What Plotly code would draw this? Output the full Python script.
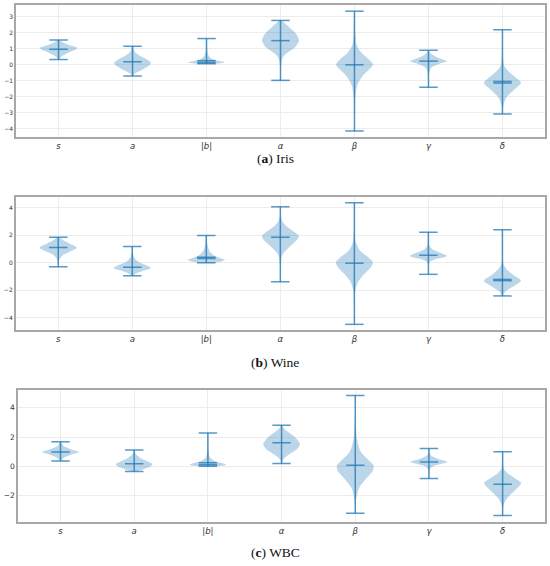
import plotly.graph_objects as go

# parameter names on the x axis
PARAMS = ['<i>s</i>', '<i>a</i>', '|<i>b</i>|', '<i>α</i>', '<i>β</i>', '<i>γ</i>', '<i>δ</i>']

# ---- Iris ----
IRIS_MIN = [0.31, -0.72, 0.05, -0.99, -4.15, -1.42, -3.09]
IRIS_MAX = [1.53, 1.14, 1.62, 2.75, 3.33, 0.89, 2.17]
IRIS_MED = [[0.95], [0.17], [0.13, 0.24], [1.49], [-0.02], [0.21], [-1.06, -1.16]]
IRIS_KDE_Y = [
    [0.31, 0.5, 0.75, 0.95, 1.05, 1.2, 1.4, 1.53],
    [-0.72, -0.55, -0.35, -0.1, 0.1, 0.3, 0.55, 0.8, 1.14],
    [0.05, 0.12, 0.22, 0.35, 0.55, 0.8, 1.1, 1.62],
    [-0.99, 0.0, 0.5, 0.8, 1.1, 1.5, 1.9, 2.3, 2.6, 2.75],
    [-4.15, -3.0, -2.0, -1.3, -0.7, -0.3, 0.0, 0.3, 0.7, 1.2, 2.0, 3.33],
    [-1.42, -0.6, -0.2, 0.05, 0.2, 0.35, 0.55, 0.75, 0.89],
    [-3.09, -2.5, -2.0, -1.6, -1.15, -0.8, -0.45, -0.1, 0.5, 1.2, 2.17],
]
IRIS_KDE_W = [
    [0.02, 0.15, 0.55, 0.95, 1.0, 0.6, 0.2, 0.03],
    [0.02, 0.15, 0.5, 0.85, 1.0, 0.8, 0.4, 0.12, 0.02],
    [0.5, 1.0, 0.7, 0.3, 0.12, 0.05, 0.03, 0.01],
    [0.01, 0.03, 0.15, 0.45, 0.8, 1.0, 0.85, 0.5, 0.2, 0.05],
    [0.01, 0.02, 0.05, 0.15, 0.45, 0.8, 1.0, 0.8, 0.4, 0.12, 0.04, 0.01],
    [0.01, 0.03, 0.15, 0.6, 1.0, 0.7, 0.3, 0.08, 0.02],
    [0.01, 0.06, 0.25, 0.6, 1.0, 0.7, 0.35, 0.1, 0.03, 0.015, 0.005],
]

# ---- Wine ----
WINE_MIN = [-0.28, -0.94, 0.01, -1.38, -4.48, -0.84, -2.41]
WINE_MAX = [1.85, 1.19, 1.99, 4.07, 4.37, 2.22, 2.41]
WINE_MED = [[1.12], [-0.33], [0.31, 0.41], [1.85], [-0.03], [0.55], [-1.21, -1.3]]
WINE_KDE_Y = [
    [-0.28, 0.2, 0.5, 0.8, 1.1, 1.4, 1.65, 1.85],
    [-0.94, -0.75, -0.55, -0.38, -0.15, 0.1, 0.4, 0.8, 1.19],
    [0.01, 0.1, 0.2, 0.35, 0.55, 0.8, 1.1, 1.5, 1.99],
    [-1.38, 0.0, 0.6, 1.1, 1.6, 1.95, 2.3, 2.7, 3.1, 3.6, 4.07],
    [-4.48, -3.0, -2.0, -1.4, -0.8, -0.3, 0.05, 0.4, 0.9, 1.5, 2.5, 4.37],
    [-0.84, 0.0, 0.25, 0.5, 0.75, 1.0, 1.3, 2.22],
    [-2.41, -2.1, -1.7, -1.3, -0.9, -0.5, -0.15, 0.5, 2.41],
]
WINE_KDE_W = [
    [0.01, 0.05, 0.2, 0.6, 1.0, 0.6, 0.25, 0.05],
    [0.03, 0.25, 0.7, 1.0, 0.7, 0.3, 0.1, 0.03, 0.01],
    [0.4, 0.8, 1.0, 0.75, 0.4, 0.2, 0.1, 0.04, 0.01],
    [0.01, 0.03, 0.12, 0.45, 0.85, 1.0, 0.7, 0.3, 0.08, 0.02, 0.005],
    [0.005, 0.02, 0.06, 0.2, 0.55, 0.9, 1.0, 0.75, 0.3, 0.08, 0.02, 0.005],
    [0.01, 0.05, 0.35, 1.0, 0.6, 0.2, 0.05, 0.01],
    [0.02, 0.15, 0.6, 1.0, 0.6, 0.25, 0.07, 0.02, 0.005],
]

# ---- WBC ----
WBC_MIN = [0.36, -0.36, 0.0, 0.2, -3.2, -0.84, -3.36]
WBC_MAX = [1.67, 1.11, 2.28, 2.8, 4.83, 1.22, 0.99]
WBC_MED = [[0.97], [0.18], [0.1, 0.25], [1.6], [0.07], [0.29], [-1.22]]
WBC_KDE_Y = [
    [0.36, 0.55, 0.8, 0.97, 1.15, 1.4, 1.67],
    [-0.36, -0.2, 0.0, 0.15, 0.35, 0.6, 0.85, 1.11],
    [0.0, 0.1, 0.2, 0.35, 0.6, 0.9, 1.3, 2.28],
    [0.2, 0.5, 0.8, 1.2, 1.5, 1.9, 2.3, 2.6, 2.8],
    [-3.2, -2.3, -1.5, -0.9, -0.3, 0.05, 0.4, 1.0, 1.8, 2.6, 3.5, 4.83],
    [-0.84, -0.2, 0.05, 0.3, 0.5, 0.7, 0.95, 1.22],
    [-3.36, -2.6, -2.1, -1.6, -1.15, -0.8, -0.45, -0.15, 0.4, 0.99],
]
WBC_KDE_W = [
    [0.02, 0.15, 0.6, 1.0, 0.6, 0.15, 0.02],
    [0.1, 0.5, 0.9, 1.0, 0.7, 0.3, 0.08, 0.02],
    [0.5, 1.0, 0.85, 0.4, 0.12, 0.05, 0.02, 0.005],
    [0.02, 0.1, 0.4, 0.85, 1.0, 0.8, 0.4, 0.12, 0.02],
    [0.01, 0.04, 0.2, 0.55, 0.95, 1.0, 0.75, 0.3, 0.1, 0.04, 0.015, 0.005],
    [0.01, 0.05, 0.3, 1.0, 0.5, 0.15, 0.03, 0.01],
    [0.01, 0.06, 0.3, 0.7, 1.0, 0.65, 0.25, 0.06, 0.02, 0.005],
]

CAPTIONS = ['(<b>a</b>) Iris', '(<b>b</b>) Wine', '(<b>c</b>) WBC']

BODY = 'rgba(31,119,180,0.3)'
LINE = 'rgba(31,119,180,0.75)'
HALF = 0.25   # matplotlib default widths=0.5
CAP = 0.125

panels = [
    (IRIS_MIN, IRIS_MAX, IRIS_MED, IRIS_KDE_Y, IRIS_KDE_W, [-4.525, 3.71], 1, [0.0291, 0.9909], [0.758, 0.991], 6),
    (WINE_MIN, WINE_MAX, WINE_MED, WINE_KDE_Y, WINE_KDE_W, [-4.89, 4.79], 2, [0.0285, 0.9909], [0.417, 0.652], 6),
    (WBC_MIN, WBC_MAX, WBC_MED, WBC_KDE_Y, WBC_KDE_W, [-3.79, 5.21], 2, [0.0330, 0.9909], [0.078, 0.311], 7.5),
]

fig = go.Figure()
layout = {}
for k, (mins, maxs, meds, kys, kws, yr, dt, xdom, ydom, tfs) in enumerate(panels):
    n = '' if k == 0 else str(k + 1)
    xa, ya = 'x' + n, 'y' + n
    for i in range(len(mins)):
        pos = i + 1
        ys = kys[i]
        ws = kws[i]
        bx = [pos + HALF * w for w in ws] + [pos - HALF * w for w in ws[::-1]]
        by = list(ys) + list(ys[::-1])
        fig.add_trace(go.Scatter(x=bx, y=by, xaxis=xa, yaxis=ya, mode='lines',
                                 fill='toself', fillcolor=BODY,
                                 line=dict(width=0, shape='spline', smoothing=0.8),
                                 hoverinfo='skip', showlegend=False))
    lx, ly = [], []
    for i in range(len(mins)):
        pos = i + 1
        lx += [pos, pos, None]
        ly += [mins[i], maxs[i], None]
        for v in [mins[i], maxs[i]] + meds[i]:
            lx += [pos - CAP, pos + CAP, None]
            ly += [v, v, None]
    fig.add_trace(go.Scatter(x=lx, y=ly, xaxis=xa, yaxis=ya, mode='lines',
                             line=dict(color=LINE, width=1.5),
                             hoverinfo='skip', showlegend=False))

    layout['xaxis' + n] = dict(domain=xdom, anchor=ya, range=[0.425, 7.575],
                               tickmode='array', tickvals=list(range(1, 8)), ticktext=PARAMS,
                               showgrid=True, gridcolor='#ececec', gridwidth=0.8,
                               zeroline=False, showline=True, mirror=True,
                               linecolor='#a8a8a8', linewidth=1.5, ticks='',
                               tickfont=dict(size=8.5, color='#333', family='DejaVu Sans'))
    layout['yaxis' + n] = dict(domain=ydom, anchor=xa, range=yr, dtick=dt, tick0=0,
                               showgrid=True, gridcolor='#ececec', gridwidth=0.8,
                               zeroline=False, showline=True, mirror=True,
                               linecolor='#a8a8a8', linewidth=1.5, ticks='',
                               tickfont=dict(size=tfs, color='#333', family='DejaVu Sans'))

caption_y = [1 - 158 / 566, 1 - 362 / 566, 1 - 552 / 566]
annotations = [dict(text=CAPTIONS[k], x=0.5, y=caption_y[k], xref='paper', yref='paper',
                    showarrow=False, xanchor='center', yanchor='middle',
                    font=dict(family='Liberation Serif', size=13.5, color='#111'))
               for k in range(3)]

fig.update_layout(width=550, height=566, margin=dict(l=0, r=0, t=0, b=0),
                  paper_bgcolor='white', plot_bgcolor='white',
                  annotations=annotations, **layout)

# drop the default 8px page margin so the figure sits at the window corner
fig.write_html("out.html", config={'displayModeBar': False},
               post_script="document.body.style.margin='0';")
